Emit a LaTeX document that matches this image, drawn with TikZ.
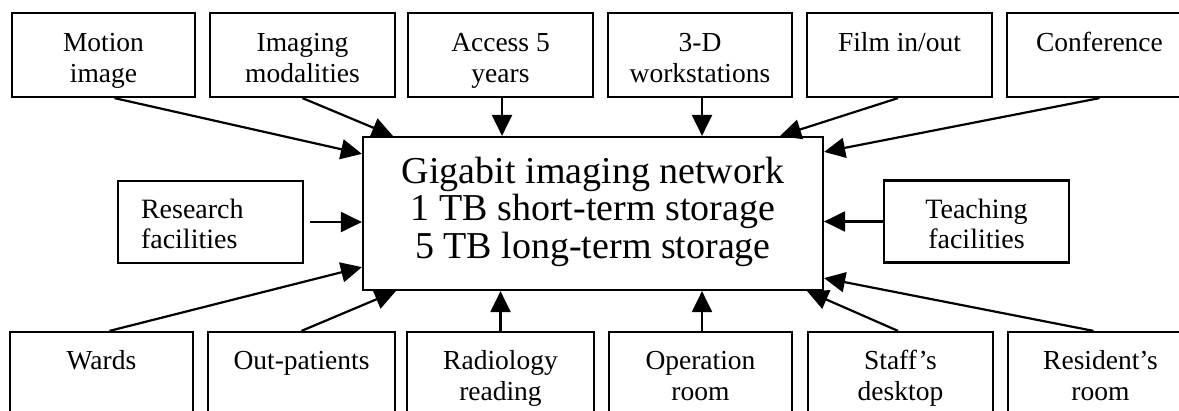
\documentclass[tikz,border=0pt]{standalone}
\usepackage{fontspec}
\setmainfont{Liberation Serif}
\usetikzlibrary{arrows.meta,calc}
\newcommand\tstr[1]{\rule{0pt}{#1pt}}
\newcommand\bstr[1]{\rule[-#1pt]{0pt}{#1pt}}
\begin{document}
\begin{tikzpicture}[x=1pt,y=-1pt,
  box/.style={draw, line width=2.2pt, minimum width=185pt, minimum height=84pt,
    inner sep=0pt, align=center, font=\fontsize{27.5}{31}\selectfont},
  side/.style={box, minimum height=82pt, font=\fontsize{28}{30}\selectfont},
  hub/.style={draw, line width=2.2pt, minimum width=460pt, minimum height=153pt,
    inner sep=0pt, align=center, font=\fontsize{38}{37.5}\selectfont},
  conn/.style={line width=2.2pt, -{Triangle[length=21pt,width=20pt]}}]
\useasboundingbox (0,0) rectangle (1179,410);
\clip (0,0) rectangle (1179,410);

% central box
\node[hub] (c) at (593,213.5) {\tstr{26}Gigabit imaging network\\1 TB short-term storage\\5 TB long-term storage\bstr{12}};

% top row
\node[box, minimum width=183pt] (m1) at (103.5,55) {\tstr{33}Motion\\image\bstr{9}};
\node[box] (m2) at (302.5,55) {\tstr{33}Imaging\\modalities\bstr{9}};
\node[box] (m3) at (500.5,55) {\tstr{33}Access 5\\years\bstr{9}};
\node[box, minimum width=184pt] (m4) at (700,55) {\tstr{33}3-D\\workstations\bstr{9}};
\node[box] (m5) at (899.5,55) {\tstr{33}Film in/out\\\bstr{9}};
\node[box] (m6) at (1099.5,55) {\tstr{33}Conference\\\bstr{9}};

% side boxes
\node[side, text width=139pt, align=left, inner xsep=23pt] (res) at (210.5,222) {\tstr{32}Research\\facilities\bstr{9}};
\node[side] (tea) at (976.5,221.5) {\tstr{32}Teaching\\facilities\bstr{9}};

% bottom row
\node[box, minimum width=183pt] (w1) at (101.5,374) {\tstr{31}Wards\\\bstr{9}};
\node[box, minimum width=187pt] (w2) at (301.5,374) {\tstr{31}Out-patients\\\bstr{9}};
\node[box, minimum width=187pt] (w3) at (500.5,374) {\tstr{31}Radiology\\reading\bstr{9}};
\node[box, minimum width=183pt] (w4) at (700.5,374) {\tstr{31}Operation\\room\bstr{9}};
\node[box] (w5) at (900.5,374) {\tstr{31}Staff's\\desktop\bstr{9}};
\node[box] (w6) at (1100.5,374) {\tstr{31}Resident's\\room\bstr{9}};

% top connectors
\draw[conn] ($(m1.south)+(11,0)$) -- ($(c.north west)+(0,18)$);
\draw[conn] (m2.south) -- ($(c.north west)+(31,0)$);
\draw[conn] ($(m3.south)+(1.5,0)$) -- ($(m3.south |- c.north)+(1.5,0)$);
\draw[conn] ($(m4.south)+(2,0)$) -- ($(m4.south |- c.north)+(2,0)$);
\draw[conn] ($(m5.south)+(-1.5,0)$) -- ($(c.north east)+(-44,0)$);
\draw[conn] (m6.south) -- ($(c.north east)+(0,16)$);

% side connectors
\draw[conn, shorten <=6pt] (res.east) -- (res.east -| c.west);
\draw[conn] (tea.west) -- (tea.west -| c.east);

% bottom connectors
\draw[conn] ($(w1.north)+(8,0)$) -- ($(c.south west)+(0,-24)$);
\draw[conn] (w2.north) -- ($(c.south west)+(34,0)$);
\draw[conn] (w3.north) -- (w3.north |- c.south);
\draw[conn] ($(w4.north)+(1.5,0)$) -- ($(w4.north |- c.south)+(1.5,0)$);
\draw[conn] ($(w5.north)+(-2.5,0)$) -- ($(c.south east)+(-17,0)$);
\draw[conn] ($(w6.north)+(-7,0)$) -- ($(c.south east)+(0,-13)$);
\end{tikzpicture}
\end{document}
